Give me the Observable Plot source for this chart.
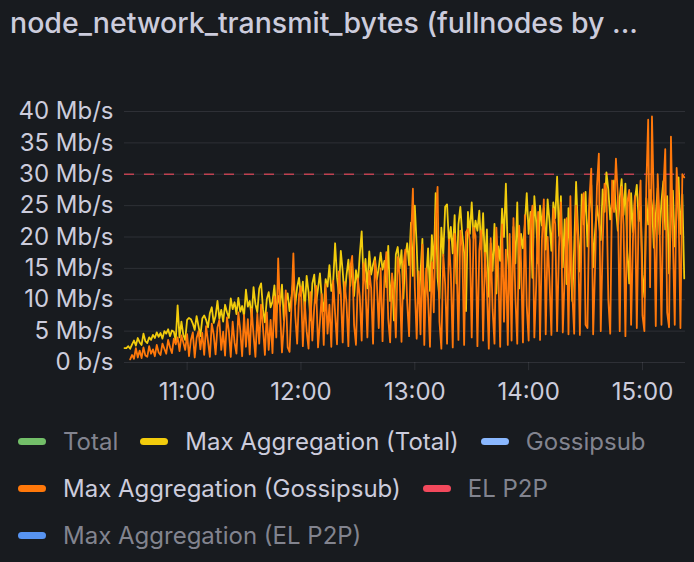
<!DOCTYPE html>
<html>
<head>
<meta charset="utf-8">
<script src="https://cdn.jsdelivr.net/npm/d3@7"></script>
<script src="https://cdn.jsdelivr.net/npm/@observablehq/plot@0.6"></script>
<style>
  html, body { margin: 0; padding: 0; background: #181b1f; width: 694px; height: 562px; overflow: hidden; font-family: Inter, "Noto Sans", sans-serif; font-variant-numeric: proportional-nums; }
  #title { position: absolute; left: 10px; top: 5px; font-size: 28.5px; font-weight: 500; color: #ccccdc; white-space: nowrap; line-height: normal; }
  #chart { position: absolute; left: 0; top: 90px; }
  #chart text { font-variant-numeric: proportional-nums; }
  #legend { position: absolute; left: 18px; top: 418px; }
  .row { display: flex; align-items: center; height: 47px; }
  .item { display: flex; align-items: center; margin-right: 22px; font-size: 24px; line-height: normal; }
  .sw { width: 28px; height: 7px; border-radius: 4px; margin-right: 17px; }
</style>
</head>
<body>
<div id="title"></div>
<div id="chart"></div>
<div id="legend"></div>
<script>
const titleText = "node_network_transmit_bytes (fullnodes by ...";

// time axis: per-minute samples
const totalStart = [2024, 0, 1, 10, 27];   // first "Max Aggregation (Total)" sample
const gossipStart = [2024, 0, 1, 10, 30];  // first "Max Aggregation (Gossipsub)" sample
const xDomain = [[2024, 0, 1, 10, 27], [2024, 0, 1, 15, 22, 40]];
const hourTicks = [11, 12, 13, 14, 15];

// Max Aggregation (Total), Mb/s, one value per minute from 10:27
const totalMax = [
  2.3,2.3,2.6,2.2,2.9,3.5,2.7,3.9,3.2,2.8,
  4.6,3.4,3.1,4.0,3.6,4.4,3.9,4.8,4.1,4.7,
  3.8,5.0,4.6,5.3,4.2,5.1,4.9,3.5,9.1,4.0,
  6.5,4.4,3.6,6.8,7.1,6.9,6.2,5.2,7.4,5.8,
  4.2,7.0,7.5,6.8,5.6,7.9,8.8,6.3,7.4,9.8,
  7.0,8.4,6.5,9.2,8.0,7.1,10.2,8.5,9.6,7.7,
  10.3,8.1,9.0,7.4,11.6,8.9,9.8,7.2,12.0,9.3,
  8.0,11.8,12.6,8.5,6.4,10.1,11.2,8.8,9.7,12.3,
  7.9,10.6,9.0,12.4,6.8,9.5,11.0,8.2,10.4,13.1,
  9.2,12.0,13.5,10.6,12.9,8.4,13.8,11.2,6.7,12.6,
  14.0,9.5,11.8,14.2,10.1,8.2,13.3,12.1,15.5,11.4,
  12.9,19.0,13.6,11.0,17.8,14.5,10.3,13.9,16.4,12.2,
  15.8,10.6,14.7,12.5,17.2,20.9,13.1,16.5,11.8,17.7,
  14.0,15.6,16.8,13.2,15.1,17.5,14.8,16.2,12.0,18.6,
  9.8,13.5,6.7,17.2,18.4,15.0,17.9,10.2,16.8,19.0,
  15.5,22.3,13.8,25.0,18.6,9.5,14.2,19.7,8.1,13.0,
  18.2,11.4,20.3,15.0,27.0,13.5,10.2,21.5,17.0,24.8,
  25.2,19.0,21.6,17.4,23.5,12.6,22.0,24.8,20.4,17.5,
  8.2,24.0,20.5,25.5,19.8,22.6,21.0,24.2,18.0,23.8,
  15.5,21.2,10.5,19.0,14.6,22.1,11.0,18.5,16.2,24.5,
  20.0,28.5,17.5,13.0,9.2,21.6,15.8,25.5,11.8,20.5,
  18.2,22.0,27.0,20.5,24.0,13.5,26.5,22.3,15.8,25.0,
  21.8,24.6,18.0,26.0,22.5,17.8,25.5,23.0,29.6,20.2,
  26.5,15.2,22.8,12.5,24.6,16.5,9.8,18.2,28.8,21.0,
  14.5,26.8,22.0,27.2,18.5,24.5,28.3,15.2,20.8,25.0,
  22.5,19.5,27.6,24.0,30.3,27.5,22.8,25.8,29.0,24.5,
  21.0,26.2,29.2,23.5,28.5,17.5,12.6,27.0,20.8,26.0,
  28.3,22.5,24.8,14.0,10.4,26.2,22.0,27.5,25.0,18.3,
  23.5,27.8,20.4,25.6,28.9,21.2,26.5,14.2,23.0,27.4,
  18.5,24.0,29.5,20.5,26.8,13.4
];

// Max Aggregation (Gossipsub), Mb/s, one value per minute from 10:30
const gossipMax = [
  0.5,1.2,0.6,2.3,0.8,1.9,0.7,
  2.4,1.1,0.9,2.6,1.4,2.1,1.0,2.8,1.6,1.2,
  3.0,2.2,1.4,3.6,2.4,1.5,3.8,2.9,4.0,1.8,
  4.3,3.2,2.0,4.5,1.0,3.6,4.8,0.8,3.9,5.0,
  2.1,4.7,1.2,5.8,3.4,0.9,6.2,4.5,1.3,5.6,
  6.8,2.0,4.9,1.1,7.2,5.0,0.9,6.5,3.2,1.4,
  8.0,5.2,1.0,7.6,2.5,6.9,1.3,8.6,4.4,0.9,
  7.8,3.0,9.2,5.5,1.2,8.0,2.0,6.8,1.5,10.5,
  4.0,16.6,8.2,1.6,6.0,11.5,2.4,1.7,9.0,17.4,
  7.5,3.0,10.8,12.0,2.6,9.6,5.0,2.2,11.2,3.5,
  8.8,12.2,2.4,6.5,10.9,2.8,12.5,4.6,9.2,2.5,
  13.0,7.8,2.9,14.5,11.0,3.2,12.8,9.5,2.6,15.2,
  17.0,6.0,2.8,13.4,10.5,3.5,15.8,12.2,4.0,14.6,
  11.8,3.0,16.2,12.8,5.5,15.0,3.4,13.6,17.6,7.0,
  3.2,14.2,11.5,4.0,16.8,13.9,3.3,15.4,18.0,9.5,
  4.2,19.5,27.7,12.0,3.8,14.5,4.5,18.8,2.8,15.0,
  10.2,2.5,16.0,8.0,22.5,28.0,6.5,2.2,17.2,12.5,
  3.0,19.6,14.0,2.4,20.5,16.8,3.6,21.0,18.5,2.8,
  20.8,21.3,19.5,4.0,21.5,20.2,2.6,18.0,21.0,3.5,
  17.5,12.0,2.2,19.8,8.5,3.0,21.5,14.8,2.5,22.0,
  6.5,18.0,2.8,20.5,3.5,23.0,10.5,3.0,21.8,16.0,
  3.2,23.5,9.0,3.5,22.0,25.0,4.0,12.5,24.0,3.6,
  19.5,26.0,4.5,20.0,13.0,4.4,24.5,22.0,5.0,18.5,
  25.5,4.8,14.0,23.0,4.5,26.5,11.0,4.6,25.0,20.0,
  4.4,22.5,27.0,6.0,5.5,26.0,30.9,4.5,15.0,28.0,
  33.3,5.0,18.5,28.5,27.5,10.0,4.6,29.0,24.0,32.5,
  26.5,5.0,28.0,22.0,4.2,25.5,27.5,6.0,20.0,26.5,
  5.5,24.0,29.0,7.5,5.0,28.0,38.7,12.0,39.2,25.0,
  5.8,30.0,22.5,6.0,27.5,34.0,8.0,5.6,36.0,20.0,
  6.0,31.0,24.5,5.5,30.0,29.5
];

const yTicks = [0, 5, 10, 15, 20, 25, 30, 35, 40];
const threshold = [30];

const legendNames = ["Total", "Max Aggregation (Total)", "Gossipsub", "Max Aggregation (Gossipsub)", "EL P2P", "Max Aggregation (EL P2P)"];
const legendColors = ["#73bf69", "#f2cc0c", "#8ab8ff", "#ff780a", "#f2495c", "#5794f2"];
const legendActive = [false, true, false, true, false, false];
const legendRows = [[0, 1, 2], [3, 4], [5]];

const mk = a => new Date(...a);
const series = (start, vals) => vals.map((v, i) => ({ t: d3.timeMinute.offset(mk(start), i), v }));
const totalData = series(totalStart, totalMax);
const gossipData = series(gossipStart, gossipMax);
const hourDates = hourTicks.map(h => new Date(2024, 0, 1, h));

document.getElementById("title").textContent = titleText;

const text = "#ccccdc";
const chart = Plot.plot({
  width: 694,
  height: 315,
  marginLeft: 124,
  marginRight: 9,
  marginTop: 21,
  marginBottom: 43,
  style: { background: "transparent", color: text, fontFamily: "Inter, sans-serif", fontSize: "24px" },
  x: { type: "time", domain: xDomain.map(mk), label: null },
  y: { domain: [0, 40], label: null },
  marks: [
    Plot.gridY(yTicks, { stroke: text, strokeOpacity: 0.12, strokeWidth: 1 }),
    Plot.gridX(hourDates, { stroke: text, strokeOpacity: 0.12, strokeWidth: 1, y1: 0, y2: -1.3 }),
    Plot.axisY(yTicks, { label: null, tickSize: 0, tickPadding: 11, tickFormat: d => d === 0 ? "0 b/s" : `${d} Mb/s`, fill: text, fontSize: 24 }),
    Plot.axisX(hourDates, { label: null, tickSize: 0, tickPadding: 20, tickFormat: d3.timeFormat("%H:%M"), fill: text, fontSize: 24 }),
    Plot.ruleY(threshold, { stroke: "#f2495c", strokeOpacity: 0.75, strokeWidth: 1.5, strokeDasharray: "10,10" }),
    Plot.line(totalData, { x: "t", y: "v", stroke: legendColors[1], strokeWidth: 1.8, curve: "linear" }),
    Plot.line(gossipData, { x: "t", y: "v", stroke: legendColors[3], strokeWidth: 1.8, curve: "linear" })
  ]
});
document.getElementById("chart").appendChild(chart);

const legend = document.getElementById("legend");
legendRows.forEach(r => {
  const row = document.createElement("div");
  row.className = "row";
  r.forEach(i => {
    const it = document.createElement("div");
    it.className = "item";
    const sw = document.createElement("div");
    sw.className = "sw";
    sw.style.background = legendColors[i];
    const lb = document.createElement("span");
    lb.textContent = legendNames[i];
    lb.style.color = legendActive[i] ? text : "rgba(204,204,220,0.6)";
    it.appendChild(sw); it.appendChild(lb);
    row.appendChild(it);
  });
  legend.appendChild(row);
});
</script>
</body>
</html>
